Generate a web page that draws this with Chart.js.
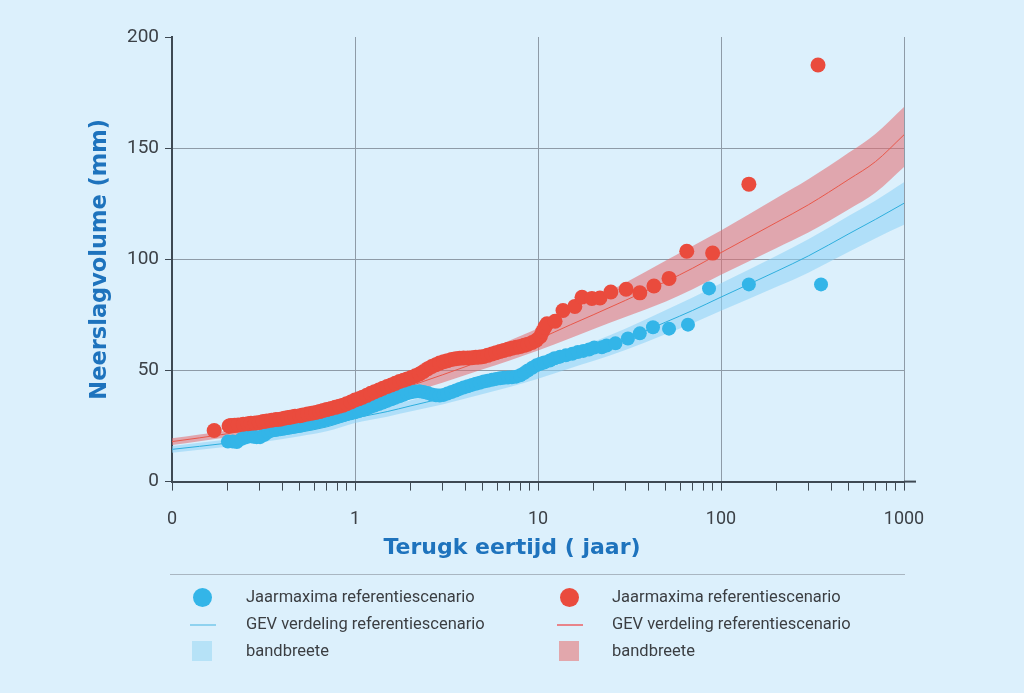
<!DOCTYPE html>
<html>
<head>
<meta charset="utf-8">
<script src="https://cdn.jsdelivr.net/npm/chart.js@4.4.1/dist/chart.umd.min.js"></script>
<style>
  html, body { margin: 0; padding: 0; background: #dcf0fc; }
  #wrap { position: relative; width: 1024px; height: 693px; background: #dcf0fc; overflow: hidden; }
  #c { position: absolute; left: 0; top: 0; }
  #sep { position: absolute; left: 170px; top: 574px; width: 735px; height: 0; border-top: 1.5px solid #a9b6c1; }
  .lg { position: absolute; font-family: Roboto, sans-serif; font-size: 16.5px; color: #3b3e42; line-height: 20px; white-space: nowrap; }
  .dot { position: absolute; width: 19px; height: 19px; border-radius: 50%; }
  .ln { position: absolute; width: 26px; height: 1.5px; }
  .sq { position: absolute; width: 20px; height: 20px; }
</style>
</head>
<body>
<div id="wrap">
  <canvas id="c" width="1024" height="693"></canvas>
  <div id="sep"></div>
  <div class="dot" style="left:193px;top:588px;background:#33b5e8"></div>
  <div class="lg" style="left:246px;top:587px">Jaarmaxima referentiescenario</div>
  <div class="ln" style="left:190px;top:624px;background:#8fd2ef"></div>
  <div class="lg" style="left:246px;top:614px">GEV verdeling referentiescenario</div>
  <div class="sq" style="left:192px;top:641px;background:#b6e2f7"></div>
  <div class="lg" style="left:246px;top:641px">bandbreete</div>

  <div class="dot" style="left:560px;top:588px;background:#ea4b3d"></div>
  <div class="lg" style="left:612px;top:587px">Jaarmaxima referentiescenario</div>
  <div class="ln" style="left:557px;top:624px;background:#e8848a"></div>
  <div class="lg" style="left:612px;top:614px">GEV verdeling referentiescenario</div>
  <div class="sq" style="left:559px;top:641px;background:#e2a7ac"></div>
  <div class="lg" style="left:612px;top:641px">bandbreete</div>
</div>
<script>
// ---- Data ----
const returnPeriodsRed = [0.17, 0.205, 0.21, 0.22, 0.23, 0.245, 0.26, 0.27, 0.285, 0.30, 0.315, 0.33, 0.35, 0.37, 0.39, 0.41, 0.43, 0.45, 0.47, 0.50, 0.52, 0.55, 0.58, 0.61, 0.64, 0.67, 0.70, 0.74, 0.78, 0.82, 0.86, 0.90, 0.95, 1.0, 1.05, 1.1, 1.16, 1.22, 1.28, 1.35, 1.42, 1.5, 1.58, 1.66, 1.75, 1.84, 1.93, 2.03, 2.14, 2.25, 2.37, 2.5, 2.63, 2.77, 2.9, 3.05, 3.2, 3.37, 3.55, 3.73, 3.92, 4.13, 4.35, 4.57, 4.8, 5.05, 5.3, 5.6, 5.9, 6.2, 6.5, 6.85, 7.2, 7.6, 8.0, 8.4, 8.8, 9.3, 9.8, 10.3, 10.6, 10.9, 11.2, 12.4, 13.7, 15.9, 17.4, 19.7, 21.8, 25, 30.3, 36, 43, 52, 65, 90, 142, 339];
const valuesRed = [23.0, 25.0, 25.2, 25.3, 25.5, 25.8, 26.0, 26.2, 26.4, 26.6, 27.0, 27.3, 27.6, 27.9, 28.1, 28.5, 28.8, 29.1, 29.4, 29.6, 30.0, 30.4, 30.8, 31.1, 31.5, 32.0, 32.4, 32.9, 33.4, 33.9, 34.4, 35.0, 35.8, 36.7, 37.3, 38.0, 38.8, 39.7, 40.4, 41.2, 42.0, 42.8, 43.5, 44.2, 45.0, 45.6, 46.2, 46.8, 47.6, 48.4, 49.5, 50.8, 51.8, 52.6, 53.3, 53.9, 54.4, 54.9, 55.3, 55.5, 55.6, 55.6, 55.7, 55.9, 56.0, 56.3, 56.8, 57.4, 58.0, 58.5, 59.0, 59.5, 60.0, 60.4, 60.8, 61.3, 61.8, 62.6, 63.6, 65.3, 67.5, 69.5, 71.0, 72.1, 77.0, 78.8, 82.9, 82.4, 82.6, 85.3, 86.5, 84.9, 88.0, 91.4, 103.6, 102.8, 133.8, 187.4];

const returnPeriodsBlue = [0.202, 0.215, 0.226, 0.24, 0.25, 0.26, 0.267, 0.28, 0.29, 0.303, 0.32, 0.335, 0.35, 0.37, 0.39, 0.41, 0.43, 0.45, 0.47, 0.50, 0.52, 0.55, 0.58, 0.61, 0.64, 0.67, 0.70, 0.74, 0.78, 0.82, 0.86, 0.90, 0.95, 1.0, 1.05, 1.1, 1.16, 1.22, 1.28, 1.35, 1.42, 1.5, 1.58, 1.66, 1.75, 1.84, 1.93, 2.03, 2.14, 2.25, 2.37, 2.5, 2.63, 2.77, 2.9, 3.05, 3.2, 3.37, 3.55, 3.73, 3.92, 4.13, 4.35, 4.57, 4.8, 5.05, 5.3, 5.6, 5.9, 6.2, 6.5, 6.85, 7.2, 7.6, 8.0, 8.4, 8.8, 9.3, 9.8, 10.3, 10.8, 11.6, 12.3, 13.2, 14.2, 15.4, 16.5, 17.7, 19, 20.3, 22.3, 23.7, 26.5, 31, 36, 42.5, 52, 66, 86, 142, 352];
const valuesBlue = [18.0, 18.0, 17.8, 19.2, 19.8, 20.3, 20.6, 20.2, 20.0, 20.0, 21.0, 22.3, 23.0, 23.3, 23.6, 23.9, 24.2, 24.5, 24.8, 25.1, 25.5, 25.9, 26.3, 26.7, 27.1, 27.5, 27.9, 28.4, 28.9, 29.4, 29.8, 30.3, 30.7, 31.2, 31.7, 32.2, 32.9, 33.6, 34.2, 34.9, 35.6, 36.3, 37.0, 37.7, 38.4, 39.1, 39.7, 40.2, 40.5, 40.6, 40.3, 39.8, 39.2, 38.8, 38.7, 39.0, 39.6, 40.3, 41.0, 41.7, 42.3, 42.9, 43.5, 44.0, 44.5, 45.0, 45.4, 45.8, 46.2, 46.5, 46.7, 46.8, 46.9, 47.2, 47.8, 48.8, 50.0, 51.2, 52.3, 53.0, 53.6, 54.5, 55.5, 56.2, 56.8, 57.5, 58.3, 58.8, 59.4, 60.3, 60.4, 61.2, 62.2, 64.4, 66.7, 69.4, 68.8, 70.6, 86.9, 88.7, 88.7];

const gevReturnPeriods = [0.1, 0.2, 0.3, 0.5, 0.7, 1, 1.5, 2, 3, 5, 7, 10, 15, 20, 30, 50, 70, 100, 200, 300, 500, 700, 1000];
const gevRed       = [18.0, 21.5, 24.2, 28.5, 31.8, 35.0, 39.5, 43.0, 48.0, 54.5, 59.0, 64.0, 70.5, 75.0, 81.5, 90.0, 96.0, 103.0, 116.5, 124.5, 136.0, 144.0, 156.0];
const gevRedUpper  = [19.5, 23.0, 25.8, 30.3, 33.8, 37.3, 42.2, 46.0, 51.5, 58.5, 63.5, 69.0, 76.5, 81.8, 89.5, 99.5, 106.0, 113.0, 127.5, 136.0, 148.0, 156.5, 168.5];
const gevRedLower  = [16.5, 20.0, 22.6, 26.7, 29.8, 32.7, 36.8, 40.0, 44.5, 50.5, 54.5, 59.0, 64.5, 68.5, 74.0, 81.0, 86.5, 93.0, 105.0, 112.0, 122.5, 130.0, 141.5];
const gevBlue      = [14.5, 17.3, 19.3, 22.2, 24.6, 28.5, 31.5, 34.0, 37.5, 42.5, 46.0, 50.0, 55.0, 58.5, 64.0, 71.8, 77.0, 83.0, 94.5, 101.5, 111.5, 118.0, 125.2];
const gevBlueUpper = [16.0, 18.9, 21.0, 24.0, 26.6, 30.6, 33.8, 36.5, 40.3, 45.6, 49.4, 53.7, 59.0, 62.8, 68.8, 77.2, 82.8, 89.2, 101.5, 109.0, 119.6, 126.5, 134.7];
const gevBlueLower = [13.0, 15.7, 17.6, 20.4, 22.6, 26.4, 29.2, 31.5, 34.7, 39.4, 42.6, 46.3, 51.0, 54.2, 59.2, 66.4, 71.2, 76.8, 87.5, 94.0, 103.4, 109.5, 115.5];

const xMajorTicks = [0.1, 1, 10, 100, 1000];
const xTickLabels = ['0', '1', '10', '100', '1000'];
const yTicks = [0, 50, 100, 150, 200];

// ---- Build chart ----
const pts = (xs, ys) => xs.map((x, i) => ({ x: x, y: ys[i] }));
const C_RED = '#ea4b3d', C_BLUE = '#33b5e8';
const GRID = '#8e9ba7', AXIS = '#3e4953';

const xTickValues = [];
for (let d = 0; d < xMajorTicks.length - 1; d++) {
  for (let k = 1; k <= 9; k++) xTickValues.push(+(xMajorTicks[d] * k).toPrecision(6));
}
xTickValues.push(xMajorTicks[xMajorTicks.length - 1]);

const isMajor = v => xMajorTicks.some(m => Math.abs(m - v) / m < 1e-6);

const extendAxis = {
  id: 'extendAxis',
  afterDraw(chart) {
    const { ctx, chartArea } = chart;
    ctx.save();
    ctx.strokeStyle = AXIS;
    ctx.lineWidth = 2;
    ctx.beginPath();
    ctx.moveTo(chartArea.right, chartArea.bottom);
    ctx.lineTo(chartArea.right + 12, chartArea.bottom);
    ctx.stroke();
    ctx.restore();
  }
};

new Chart(document.getElementById('c'), {
  type: 'scatter',
  data: {
    datasets: [
      { label: 'Jaarmaxima (rood)', data: pts(returnPeriodsRed, valuesRed), backgroundColor: C_RED, borderColor: C_RED, pointRadius: 7.5, pointBorderWidth: 0, order: 0 },
      { label: 'Jaarmaxima (blauw)', data: pts(returnPeriodsBlue, valuesBlue), backgroundColor: C_BLUE, borderColor: C_BLUE, pointRadius: 7, pointBorderWidth: 0, order: 1 },
      { label: 'GEV rood', data: pts(gevReturnPeriods, gevRed), showLine: true, borderColor: '#e8574a', borderWidth: 1, pointRadius: 0, cubicInterpolationMode: 'monotone', fill: false, order: 2 },
      { label: 'GEV blauw', data: pts(gevReturnPeriods, gevBlue), showLine: true, borderColor: '#2eaedd', borderWidth: 1, pointRadius: 0, cubicInterpolationMode: 'monotone', fill: false, order: 3 },
      { label: 'band rood boven', data: pts(gevReturnPeriods, gevRedUpper), showLine: true, borderWidth: 0, borderColor: 'rgba(0,0,0,0)', pointRadius: 0, cubicInterpolationMode: 'monotone', fill: false, order: 4 },
      { label: 'band rood onder', data: pts(gevReturnPeriods, gevRedLower), showLine: true, borderWidth: 0, borderColor: 'rgba(0,0,0,0)', backgroundColor: 'rgba(228,105,110,0.55)', pointRadius: 0, cubicInterpolationMode: 'monotone', fill: '-1', order: 4 },
      { label: 'band blauw boven', data: pts(gevReturnPeriods, gevBlueUpper), showLine: true, borderWidth: 0, borderColor: 'rgba(0,0,0,0)', pointRadius: 0, cubicInterpolationMode: 'monotone', fill: false, order: 5 },
      { label: 'band blauw onder', data: pts(gevReturnPeriods, gevBlueLower), showLine: true, borderWidth: 0, borderColor: 'rgba(0,0,0,0)', backgroundColor: 'rgba(140,210,245,0.55)', pointRadius: 0, cubicInterpolationMode: 'monotone', fill: '-1', order: 5 }
    ]
  },
  options: {
    responsive: false,
    animation: false,
    events: [],
    layout: { padding: { left: 0, right: 0, top: 37, bottom: 122 } },
    plugins: {
      legend: { display: false },
      tooltip: { enabled: false },
      title: {
        display: true,
        position: 'bottom',
        text: 'Terugk eertijd ( jaar)',
        color: '#1e73bd',
        font: { family: '"DejaVu Sans", sans-serif', size: 22, weight: 'bold' },
        padding: { top: 3, bottom: 10 }
      }
    },
    scales: {
      x: {
        type: 'logarithmic',
        min: 0.1,
        max: 1000,
        afterBuildTicks: (scale) => { scale.ticks = xTickValues.map(v => ({ value: v, major: isMajor(v) })); },
        afterFit: (scale) => { scale.height = 50; },
        border: { display: true, color: AXIS, width: 2 },
        grid: {
          color: (ctx) => { const v = ctx.tick && ctx.tick.value; return (v && isMajor(v) && v > 0.1) ? GRID : 'rgba(0,0,0,0)'; },
          lineWidth: 1,
          tickColor: AXIS,
          tickLength: 9,
          tickWidth: 1,
          drawOnChartArea: true
        },
        ticks: {
          autoSkip: false,
          maxRotation: 0,
          padding: 18,
          color: '#3c4147',
          font: { family: 'Roboto, sans-serif', size: 18 },
          callback: (v) => { const i = xMajorTicks.findIndex(m => Math.abs(m - v) / m < 1e-6); return i >= 0 ? xTickLabels[i] : ''; }
        }
      },
      y: {
        min: 0,
        max: 200,
        afterBuildTicks: (scale) => { scale.ticks = yTicks.map(v => ({ value: v })); },
        afterFit: (scale) => { scale.width = 172; },
        border: { display: true, color: AXIS, width: 2 },
        grid: {
          color: (ctx) => { const v = ctx.tick && ctx.tick.value; return (v > 0 && v < 200) ? GRID : 'rgba(0,0,0,0)'; },
          lineWidth: 1,
          tickColor: AXIS,
          tickLength: 7,
          tickWidth: 1
        },
        ticks: {
          padding: 6,
          color: '#3c4147',
          font: { family: 'Roboto, sans-serif', size: 19 }
        },
        title: {
          display: true,
          text: 'Neerslagvolume (mm)',
          color: '#1e73bd',
          font: { family: '"DejaVu Sans", sans-serif', size: 22.5, weight: 'bold' },
          padding: { top: 87, bottom: 0 }
        }
      },
      yRight: {
        position: 'right',
        display: true,
        min: 0,
        max: 200,
        afterFit: (scale) => { scale.width = 120; },
        border: { display: false },
        grid: { drawOnChartArea: false, drawTicks: false, display: false },
        ticks: { display: false }
      }
    }
  },
  plugins: [extendAxis]
});
</script>
</body>
</html>
